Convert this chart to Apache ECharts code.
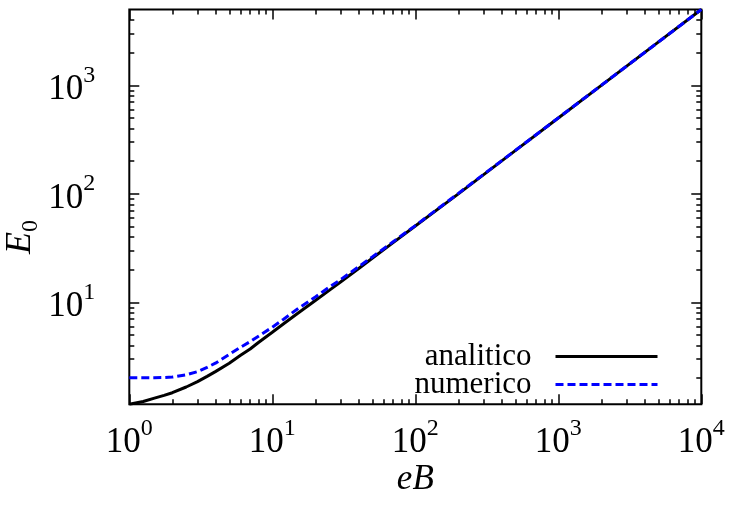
<!DOCTYPE html>
<html><head><meta charset="utf-8">
<script src="https://cdn.jsdelivr.net/npm/echarts@6/dist/echarts.min.js"></script>
<style>html,body{margin:0;padding:0;background:#fff}#c{width:729px;height:507px}</style>
</head><body><div id="c"></div>
<script>
// ---- data ----
const eB = [1, 1.25, 1.5, 1.75, 2, 2.5, 3, 3.5, 4, 5, 6, 7, 8, 10, 12, 15, 20, 25, 30, 40, 50, 70, 100, 200, 500, 1000, 2000, 5000, 10000];
const analitico = [1.15, 1.22, 1.31, 1.39, 1.47, 1.66, 1.86, 2.08, 2.30, 2.75, 3.25, 3.72, 4.27, 5.3, 6.35, 7.9, 10.4, 12.9, 15.4, 20.4, 25.5, 35.5, 50.5, 100, 250, 500, 1000, 2500, 5000];
const numerico = [2.02, 2.02, 2.02, 2.03, 2.05, 2.15, 2.30, 2.52, 2.75, 3.32, 3.86, 4.35, 4.88, 5.9, 7.0, 8.7, 11.2, 13.8, 16.2, 21.2, 26.2, 36.2, 51, 101, 251, 501, 1001, 2501, 5000];
const seriesNames = ['analitico', 'numerico'];
const xMajorTicks = [1, 10, 100, 1000, 10000];
const xMinorTicks = [2,3,4,5,6,7,8,9, 20,30,40,50,60,70,80,90, 200,300,400,500,600,700,800,900, 2000,3000,4000,5000,6000,7000,8000,9000];
const yMajorTicks = [10, 100, 1000];
const yMinorTicks = [2,3,4,5,6,7,8,9, 20,30,40,50,60,70,80,90, 200,300,400,500,600,700,800,900, 2000,3000,4000];
const xMin = 1, xMax = 10000, yMin = 1.15, yMax = 5000;

const FONT = 'Liberation Serif';
const rich = {
  b: {fontFamily: FONT, fontSize: 35, lineHeight: 44, verticalAlign: 'bottom', color: '#000'},
  s: {fontFamily: FONT, fontSize: 24, lineHeight: 24, verticalAlign: 'top', color: '#000'}
};
const fmt = v => '{b|10}{s|' + Math.round(Math.log10(v)) + '}';

function tickAxis(base, pos, vals, len, extra) {
  return Object.assign({
    type: 'log', logBase: 10, position: pos, min: base[0], max: base[1],
    axisLine: {show: false}, splitLine: {show: false},
    axisLabel: {show: false},
    axisTick: {show: true, inside: true, length: len, customValues: vals, lineStyle: {color: '#000', width: 1.5}}
  }, extra || {});
}

const xAxes = [
  tickAxis([xMin, xMax], 'bottom', xMajorTicks, 10, {
    name: 'eB', nameLocation: 'middle', nameGap: 58, nameMoveOverlap: false,
    nameTextStyle: {fontFamily: FONT, fontSize: 35, fontStyle: 'italic', color: '#000'},
    axisLabel: {show: true, customValues: xMajorTicks, formatter: fmt, rich: rich, margin: 12, color: '#000'}
  }),
  tickAxis([xMin, xMax], 'bottom', xMinorTicks, 5),
  tickAxis([xMin, xMax], 'top', xMajorTicks, 10),
  tickAxis([xMin, xMax], 'top', xMinorTicks, 5)
];
const yAxes = [
  tickAxis([yMin, yMax], 'left', yMajorTicks, 10, {
    name: '{i|E}{s|0}', nameLocation: 'middle', nameRotate: 90, nameGap: 87, nameMoveOverlap: false,
    nameTextStyle: {
      padding: [0, 60, 0, 0],
      rich: {
        i: {fontFamily: FONT, fontSize: 36, fontStyle: 'italic', color: '#000', lineHeight: 40, verticalAlign: 'top'},
        s: {fontFamily: FONT, fontSize: 24, color: '#000', lineHeight: 24, verticalAlign: 'bottom'}
      }
    },
    axisLabel: {show: true, customValues: yMajorTicks, formatter: fmt, rich: rich, margin: 34, color: '#000'}
  }),
  tickAxis([yMin, yMax], 'left', yMinorTicks, 5),
  tickAxis([yMin, yMax], 'right', yMajorTicks, 10),
  tickAxis([yMin, yMax], 'right', yMinorTicks, 5)
];

const chart = echarts.init(document.getElementById('c'), null, {renderer: 'canvas'});
chart.setOption({
  animation: false,
  backgroundColor: '#fff',
  grid: {left: 129.3, right: 27.7, top: 9.5, bottom: 102.7, show: true, borderColor: '#000', borderWidth: 2,
         backgroundColor: 'transparent', containLabel: false, outerBoundsMode: 'none'},
  xAxis: xAxes,
  yAxis: yAxes,
  legend: {
    orient: 'vertical', right: 65, top: 336, align: 'right',
    itemWidth: 102, itemHeight: 14, itemGap: -3,
    data: seriesNames,
    itemStyle: {opacity: 0, borderWidth: 0},
    lineStyle: {width: 3},
    textStyle: {fontFamily: FONT, fontSize: 31, color: '#000', padding: [0, 19, 0, 0]}
  },
  series: [
    {type: 'line', name: seriesNames[0], xAxisIndex: 0, yAxisIndex: 0,
     data: eB.map((x, i) => [x, analitico[i]]),
     symbol: 'none', clip: true,
     lineStyle: {color: '#000', width: 3}, itemStyle: {color: '#000'}},
    {type: 'line', name: seriesNames[1], xAxisIndex: 0, yAxisIndex: 0,
     data: eB.map((x, i) => [x, numerico[i]]),
     symbol: 'none', clip: true,
     lineStyle: {color: '#0000ff', width: 3, type: [8, 4]}, itemStyle: {color: '#0000ff'}}
  ]
});
</script></body></html>
